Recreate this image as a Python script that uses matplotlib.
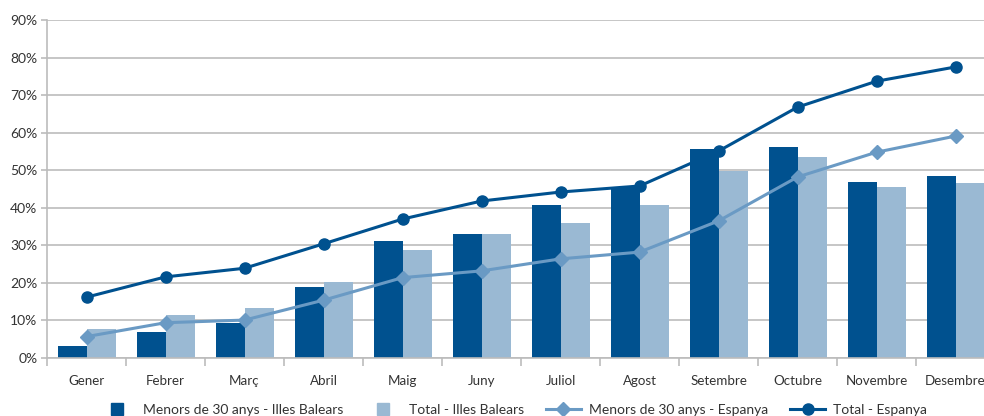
import numpy as np
import matplotlib
matplotlib.use("Agg")
import matplotlib.pyplot as plt
from matplotlib.lines import Line2D
from matplotlib.ticker import FuncFormatter

plt.rcParams['font.family'] = ['Lato', 'DejaVu Sans']

months = ['Gener', 'Febrer', 'Març', 'Abril', 'Maig', 'Juny',
          'Juliol', 'Agost', 'Setembre', 'Octubre', 'Novembre', 'Desembre']
menors_ib = [3.2, 6.9, 9.4, 18.9, 31.1, 33.0, 40.7, 45.5, 55.6, 56.2, 46.9, 48.5]
total_ib = [7.7, 11.4, 13.3, 20.2, 28.8, 33.0, 35.9, 40.7, 49.8, 53.5, 45.5, 46.6]
menors_es = [5.7, 9.4, 10.1, 15.4, 21.4, 23.2, 26.4, 28.2, 36.5, 48.2, 54.8, 59.1]
total_es = [16.2, 21.6, 23.9, 30.4, 37.0, 41.8, 44.2, 45.8, 55.1, 66.8, 73.7, 77.5]
names = ['Menors de 30 anys - Illes Balears', 'Total - Illes Balears',
         'Menors de 30 anys - Espanya', 'Total - Espanya']

dark = '#00518f'
light = '#9ab9d3'
mid = '#6a9ac4'
grid = '#bcbcbc'
txt = '#333333'

fig = plt.figure(figsize=(9.84, 4.16), dpi=100)
ax = fig.add_axes([0.0478, 0.1394, 0.9634, 0.8125])

x = np.arange(len(months))
w = 0.367
ax.bar(x - w / 2, menors_ib, w, color=dark, zorder=2)
ax.bar(x + w / 2, total_ib, w, color=light, zorder=2)
ax.plot(x, menors_es, color=mid, lw=2.2, marker='D', ms=7, zorder=3)
ax.plot(x, total_es, color=dark, lw=2.2, marker='o', ms=8, zorder=4)

ax.set_xlim(-0.5, 11.5)
ax.set_ylim(0, 90)
ax.set_yticks(np.arange(0, 91, 10))
ax.yaxis.set_major_formatter(FuncFormatter(lambda v, p: f'{v:.0f}%'))
ax.yaxis.grid(True, color=grid, lw=1.2, zorder=0)
ax.set_axisbelow(True)

ax.set_xticks(x)
ax.set_xticklabels(months)
ax.set_xticks(np.arange(-0.5, 12, 1), minor=True)
ax.tick_params(axis='x', which='major', length=0, pad=12, labelsize=9.6, colors=txt)
ax.tick_params(axis='x', which='minor', length=6, width=1.2, color=grid)
ax.tick_params(axis='y', length=4, width=1.2, color=grid, labelsize=10, labelcolor=txt, pad=3)

for s in ['top', 'right']:
    ax.spines[s].set_visible(False)
for s in ['left', 'bottom']:
    ax.spines[s].set_color(grid)
    ax.spines[s].set_linewidth(1.2)

handles = [
    Line2D([], [], ls='none', marker='s', ms=8, color=dark),
    Line2D([], [], ls='none', marker='s', ms=8, color=light),
    Line2D([], [], color=mid, lw=2.2, marker='D', ms=7),
    Line2D([], [], color=dark, lw=2.2, marker='o', ms=8),
]
fig.legend(handles, names, loc='lower center', bbox_to_anchor=(0.522, -0.03), ncol=4,
           frameon=False, fontsize=10, handlelength=2.5, columnspacing=1.6,
           handletextpad=0.6, labelcolor=txt)

fig.savefig('out.png', dpi=100)
